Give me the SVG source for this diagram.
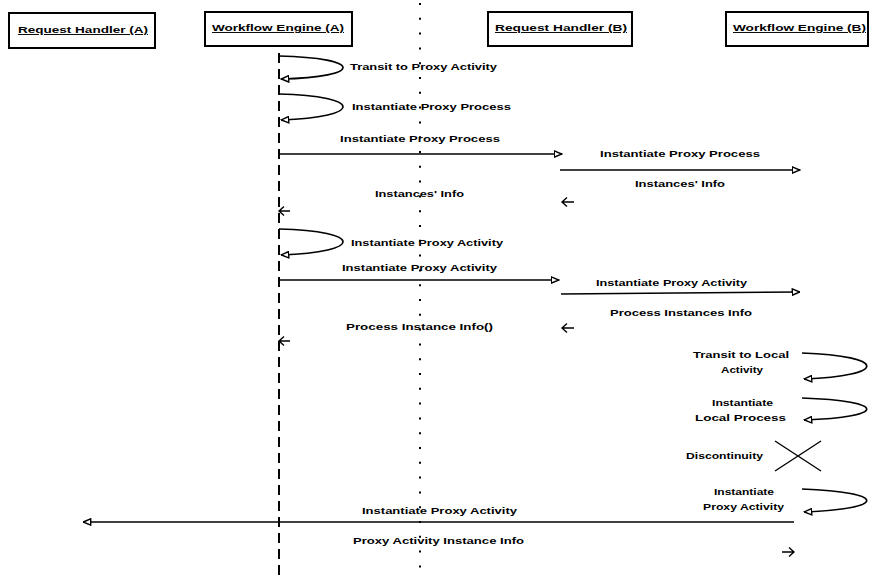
<svg xmlns="http://www.w3.org/2000/svg" width="869" height="575" viewBox="0 0 869 575">
  <defs>
    <marker id="tri" viewBox="0 0 9 8" refX="8.5" refY="4" markerWidth="9" markerHeight="8" markerUnits="userSpaceOnUse" orient="auto">
      <path d="M0.8,0.8 L8.2,4 L0.8,7.2 Z" fill="#fff" stroke="#000" stroke-width="1.4"/>
    </marker>
  </defs>
  <style>
    .box { fill: #fff; stroke: #000; stroke-width: 2; }
    .hd { font-family: "Liberation Sans", Arial, sans-serif; font-size: 9.5px; font-weight: bold; text-decoration: underline; }
    .lb { font-family: "Liberation Sans", Arial, sans-serif; font-size: 9px; font-weight: bold; fill: #000; }
    .msg { fill: none; stroke: #000; stroke-width: 1.6; marker-end: url(#tri); }
    .ret { fill: none; stroke: #000; stroke-width: 1.4; }
    .life { stroke: #000; stroke-width: 2; stroke-dasharray: 10 6; }
    .dots { stroke: #000; stroke-width: 2; stroke-dasharray: 2 12.8; }
    .cross { stroke: #000; stroke-width: 1.4; }
  </style>
  <rect width="869" height="575" fill="#fff"/>

  <!-- lifelines -->
  <g id="lifelines">
    <line class="life" x1="279" y1="53" x2="279" y2="575"/>
    <line class="dots" x1="420" y1="3" x2="420" y2="570"/>
  </g>

  <!-- participants -->
  <g id="request-handler-a">
    <rect class="box" x="9" y="13" width="146" height="35"/>
    <text class="hd" x="18" y="33" textLength="130" lengthAdjust="spacingAndGlyphs">Request Handler (A)</text>
  </g>
  <g id="workflow-engine-a">
    <rect class="box" x="205" y="12" width="147" height="34"/>
    <text class="hd" x="212" y="31" textLength="132" lengthAdjust="spacingAndGlyphs">Workflow Engine (A)</text>
  </g>
  <g id="request-handler-b">
    <rect class="box" x="488" y="12" width="144" height="34"/>
    <text class="hd" x="495" y="31" textLength="132" lengthAdjust="spacingAndGlyphs">Request Handler (B)</text>
  </g>
  <g id="workflow-engine-b">
    <rect class="box" x="726" y="12" width="142" height="34"/>
    <text class="hd" x="733" y="31" textLength="133" lengthAdjust="spacingAndGlyphs">Workflow Engine (B)</text>
  </g>

  <!-- messages -->
  <g id="connectors">
    <path class="msg" d="M279,56 C364,58 364,77 281,79"/>
    <path class="msg" d="M279,94 C364,96 364,117 281,120"/>
    <path class="msg" d="M279,154 H562"/>
    <path class="msg" d="M560,170 H800"/>
    <path class="ret" d="M574,202 H562 M567,197.5 L562,202 L567,206.5"/>
    <path class="ret" d="M290,211 H279 M284,206.5 L279,211 L284,215.5"/>
    <path class="msg" d="M279,229 C364,231 364,252 281,255"/>
    <path class="msg" d="M279,280 H559"/>
    <path class="msg" d="M561,294 L800,292"/>
    <path class="ret" d="M574,328 H562 M567,323.5 L562,328 L567,332.5"/>
    <path class="ret" d="M290,341 H279 M284,336.5 L279,341 L284,345.5"/>
    <path class="msg" d="M802,353 C888,356 888,376 804,379"/>
    <path class="msg" d="M802,398 C888,401 888,417 804,420"/>
    <path class="msg" d="M802,489 C888,492 888,509 804,512"/>
    <path class="msg" d="M794,522 H83"/>
    <path class="ret" d="M782,552 H794 M789,547.5 L794,552 L789,556.5"/>
  </g>

  <!-- discontinuity mark -->
  <g id="discontinuity">
    <line class="cross" x1="775" y1="441" x2="821" y2="471"/>
    <line class="cross" x1="775" y1="471" x2="821" y2="441"/>
    <text class="lb" x="686" y="459" textLength="77" lengthAdjust="spacingAndGlyphs">Discontinuity</text>
  </g>

  <!-- message labels -->
  <g id="labels">
    <text class="lb" x="350" y="70" textLength="147" lengthAdjust="spacingAndGlyphs">Transit to Proxy Activity</text>
    <text class="lb" x="352" y="110" textLength="159" lengthAdjust="spacingAndGlyphs">Instantiate Proxy Process</text>
    <text class="lb" x="340" y="142" textLength="160" lengthAdjust="spacingAndGlyphs">Instantiate Proxy Process</text>
    <text class="lb" x="600" y="157" textLength="160" lengthAdjust="spacingAndGlyphs">Instantiate Proxy Process</text>
    <text class="lb" x="635" y="187" textLength="90" lengthAdjust="spacingAndGlyphs">Instances' Info</text>
    <text class="lb" x="375" y="197" textLength="89" lengthAdjust="spacingAndGlyphs">Instances' Info</text>
    <text class="lb" x="351" y="246" textLength="152" lengthAdjust="spacingAndGlyphs">Instantiate Proxy Activity</text>
    <text class="lb" x="342" y="271" textLength="155" lengthAdjust="spacingAndGlyphs">Instantiate Proxy Activity</text>
    <text class="lb" x="596" y="286" textLength="151" lengthAdjust="spacingAndGlyphs">Instantiate Proxy Activity</text>
    <text class="lb" x="610" y="316" textLength="142" lengthAdjust="spacingAndGlyphs">Process Instances Info</text>
    <text class="lb" x="346" y="330" textLength="147" lengthAdjust="spacingAndGlyphs">Process Instance Info()</text>
    <text class="lb" x="693" y="358" textLength="96" lengthAdjust="spacingAndGlyphs">Transit to Local</text>
    <text class="lb" x="721" y="373" textLength="42" lengthAdjust="spacingAndGlyphs">Activity</text>
    <text class="lb" x="712" y="406" textLength="61" lengthAdjust="spacingAndGlyphs">Instantiate</text>
    <text class="lb" x="695" y="421" textLength="91" lengthAdjust="spacingAndGlyphs">Local Process</text>
    <text class="lb" x="714" y="495" textLength="60" lengthAdjust="spacingAndGlyphs">Instantiate</text>
    <text class="lb" x="703" y="510" textLength="81" lengthAdjust="spacingAndGlyphs">Proxy Activity</text>
    <text class="lb" x="362" y="514" textLength="155" lengthAdjust="spacingAndGlyphs">Instantiate Proxy Activity</text>
    <text class="lb" x="353" y="544" textLength="171" lengthAdjust="spacingAndGlyphs">Proxy Activity Instance Info</text>
  </g>
</svg>
